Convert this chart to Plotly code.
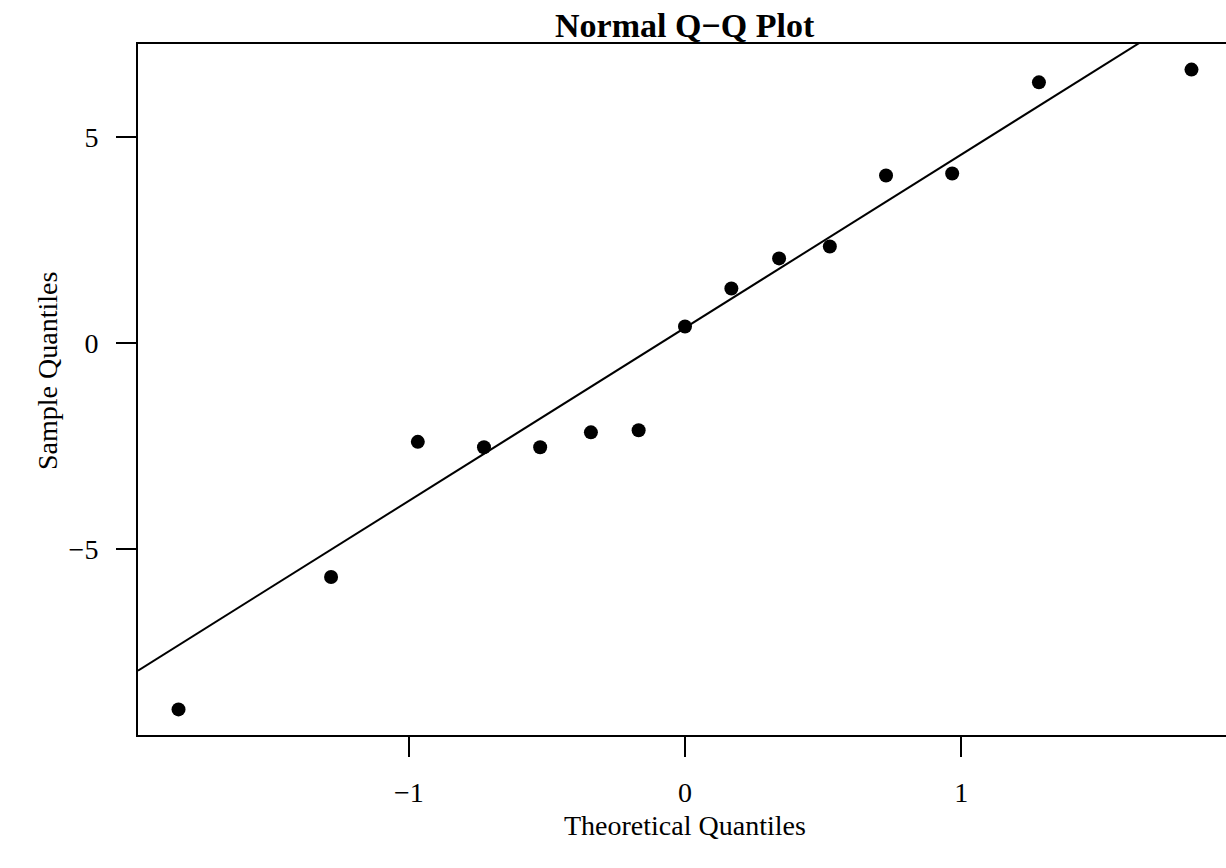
from statistics import NormalDist
import numpy as np
import plotly.graph_objects as go

# Sample values, in plotting order along the theoretical quantiles
sample = [-8.89, -5.68, -2.40, -2.53, -2.53, -2.17, -2.12, 0.40, 1.32,
          2.05, 2.34, 4.06, 4.11, 6.32, 6.63]

x_ticks = [-1, 0, 1]
y_ticks = [-5, 0, 5]

title_text = "Normal Q\u2212Q Plot"
x_label = "Theoretical Quantiles"
y_label = "Sample Quantiles"

# Theoretical quantiles using R's ppoints convention
n = len(sample)
a = 3 / 8 if n <= 10 else 0.5
nd = NormalDist()
theo = [nd.inv_cdf((i - a) / (n + 1 - 2 * a)) for i in range(1, n + 1)]

# Reference line through the first and third quartiles
q_s = np.quantile(sample, [0.25, 0.75])
q_t = [nd.inv_cdf(0.25), nd.inv_cdf(0.75)]
slope = (q_s[1] - q_s[0]) / (q_t[1] - q_t[0])
intercept = q_s[0] - slope * q_t[0]


def extend(vals, f=0.04):
    lo, hi = min(vals), max(vals)
    d = (hi - lo) * f
    return lo - d, hi + d


xlo, xhi = extend(theo)
ylo, yhi = extend(sample)

W, H = 1226, 868
L, T, B = 138, 44, 133
full_w = 1094  # width of the full plotting region in px
vis_w = W - L
x_vis_hi = xlo + (xhi - xlo) * vis_w / full_w

FONT = "Liberation Serif"
FS = 28


def fmt(v):
    return ("\u2212" if v < 0 else "") + str(abs(v))


fig = go.Figure()
fig.add_trace(go.Scatter(
    x=[xlo, xhi], y=[intercept + slope * xlo, intercept + slope * xhi],
    mode="lines", line=dict(color="black", width=2), hoverinfo="skip"))
fig.add_trace(go.Scatter(
    x=theo, y=sample, mode="markers",
    marker=dict(color="black", size=14, line=dict(width=0))))

fig.update_layout(
    width=W, height=H,
    margin=dict(l=L, r=0, t=T, b=B),
    paper_bgcolor="white", plot_bgcolor="white",
    showlegend=False,
    font=dict(family=FONT, color="black", size=FS),
)
fig.update_xaxes(
    range=[xlo, x_vis_hi], tickvals=x_ticks, ticktext=[fmt(v) for v in x_ticks],
    showgrid=False, zeroline=False, showline=True, mirror=True,
    linecolor="black", linewidth=2, ticks="outside", ticklen=20,
    tickwidth=2, tickcolor="black", ticklabelstandoff=11,
    tickfont=dict(family=FONT, size=FS, color="black"))
fig.update_yaxes(
    range=[ylo, yhi], tickvals=y_ticks, ticktext=[fmt(v) for v in y_ticks],
    showgrid=False, zeroline=False, showline=True, mirror=False,
    linecolor="black", linewidth=2, ticks="outside", ticklen=20,
    tickwidth=2, tickcolor="black", ticklabelstandoff=12,
    tickfont=dict(family=FONT, size=FS, color="black"))

x_mid = (xlo + xhi) / 2
fig.add_annotation(x=x_mid, xref="x", y=1, yref="paper", yanchor="bottom",
                   yshift=-2, showarrow=False,
                   text="<b>" + title_text + "</b>",
                   font=dict(family=FONT, size=34, color="black"))
fig.add_annotation(x=x_mid, xref="x", y=0, yref="paper", yanchor="middle",
                   yshift=-90, showarrow=False, text=x_label,
                   font=dict(family=FONT, size=FS, color="black"))
fig.add_annotation(x=0, xref="paper", xshift=-108, y=0.5, yref="paper",
                   yshift=18, showarrow=False, textangle=-90, text=y_label,
                   font=dict(family=FONT, size=FS, color="black"))

fig.write_html("out.html")
